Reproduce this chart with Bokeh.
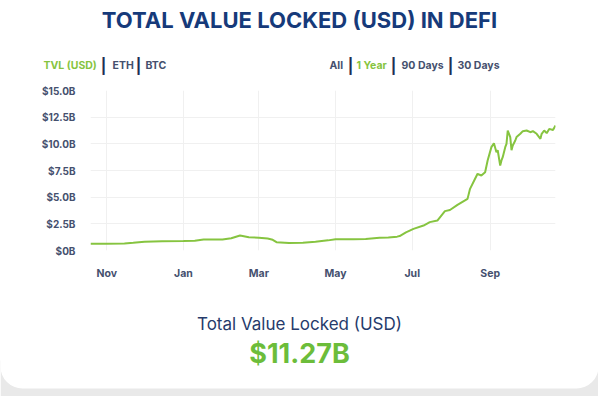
from bokeh.plotting import figure
from bokeh.layouts import column
from bokeh.models import (Range1d, FixedTicker, MonthsTicker, DatetimeTickFormatter, Label,
                          ColumnDataSource, BoxAnnotation)
from bokeh.embed import file_html
from bokeh.resources import INLINE
import pandas as pd

# ---- data ----
dates = [
    "2019-10-19", "2019-11-01", "2019-11-15", "2019-11-22", "2019-12-01", "2019-12-15",
    "2020-01-01", "2020-01-10", "2020-01-17", "2020-02-01", "2020-02-08", "2020-02-15",
    "2020-02-22", "2020-03-01", "2020-03-08", "2020-03-12", "2020-03-15", "2020-03-25",
    "2020-04-05", "2020-04-15", "2020-04-25", "2020-05-01", "2020-05-15", "2020-05-25",
    "2020-06-05", "2020-06-12", "2020-06-19", "2020-06-21", "2020-06-26", "2020-07-02",
    "2020-07-10", "2020-07-15", "2020-07-21", "2020-07-27", "2020-07-31", "2020-08-06",
    "2020-08-14", "2020-08-16", "2020-08-20", "2020-08-22", "2020-08-25", "2020-08-28",
    "2020-08-30", "2020-09-02", "2020-09-04", "2020-09-06", "2020-09-07", "2020-09-09",
    "2020-09-10", "2020-09-11", "2020-09-13", "2020-09-14", "2020-09-15", "2020-09-17",
    "2020-09-18", "2020-09-19", "2020-09-21", "2020-09-22", "2020-09-25", "2020-09-27",
    "2020-09-30", "2020-10-03", "2020-10-05", "2020-10-08", "2020-10-11", "2020-10-12",
    "2020-10-14", "2020-10-16", "2020-10-18", "2020-10-21", "2020-10-23",
]
tvl_billions = [
    0.63, 0.64, 0.66, 0.72, 0.83, 0.86,
    0.88, 0.92, 1.03, 1.03, 1.15, 1.41,
    1.25, 1.20, 1.13, 1.00, 0.78, 0.70,
    0.72, 0.82, 0.95, 1.05, 1.05, 1.08,
    1.20, 1.22, 1.30, 1.35, 1.70, 2.03,
    2.34, 2.66, 2.81, 3.69, 3.80, 4.28,
    4.84, 5.78, 6.72, 7.19, 7.03, 7.34,
    8.44, 9.69, 10.06, 9.22, 9.40, 7.97,
    8.44, 8.75, 9.69, 10.00, 11.25, 10.63,
    9.40, 9.84, 10.31, 10.63, 10.94, 11.19,
    11.25, 11.09, 11.19, 10.94, 10.47, 10.94,
    11.25, 11.00, 11.40, 11.30, 11.72,
]
y_ticks = [0, 2.5, 5.0, 7.5, 10.0, 12.5, 15.0]
y_tick_labels = ["$0B", "$2.5B", "$5.0B", "$7.5B", "$10.0B", "$12.5B", "$15.0B"]
title_text = "TOTAL VALUE LOCKED (USD) IN DEFI"
left_tabs = ["TVL (USD)", "ETH", "BTC"]
right_tabs = ["All", "1 Year", "90 Days", "30 Days"]
summary_label = "Total Value Locked (USD)"
summary_value = "$11.27B"

FONT = "Inter"
GREEN = "#86c440"
NAVY = "#163a7a"
GREYNAVY = "#45506e"
SEP = "#1f2f55"
W = 598


def text_panel(top, bottom):
    """A figure whose frame fills the canvas; its ranges are page pixels."""
    f = figure(width=W, height=bottom - top, x_range=Range1d(0, W),
               y_range=Range1d(bottom, top), output_backend="svg",
               toolbar_location=None, x_axis_location=None, y_axis_location=None,
               min_border=0)
    f.frame_align = False
    f.outline_line_color = None
    f.grid.visible = False
    return f


def lab(f, text, x, y, size, color, style="normal", align="left"):
    f.add_layout(Label(x=x, y=y, text=text, text_font=FONT, text_font_size=size,
                       text_color=color, text_font_style=style, text_align=align,
                       text_baseline="middle"))


# ---- header ----
top = text_panel(0, 84)
lab(top, title_text, 299, 19, "22px", NAVY, "bold", "center")
ry = 65
TS = "10.5px"
lab(top, left_tabs[0], 43, ry, TS, GREEN, "bold")
lab(top, "|", 103, ry, "15px", SEP, "bold", "center")
lab(top, left_tabs[1], 112, ry, TS, GREYNAVY, "bold")
lab(top, "|", 138, ry, "15px", SEP, "bold", "center")
lab(top, left_tabs[2], 145, ry, TS, GREYNAVY, "bold")
lab(top, right_tabs[0], 329, ry, TS, GREYNAVY, "bold")
lab(top, "|", 350, ry, "15px", SEP, "bold", "center")
lab(top, right_tabs[1], 356, ry, TS, GREEN, "bold")
lab(top, "|", 393, ry, "15px", SEP, "bold", "center")
lab(top, right_tabs[2], 401, ry, TS, GREYNAVY, "bold")
lab(top, "|", 450, ry, "15px", SEP, "bold", "center")
lab(top, right_tabs[3], 457, ry, TS, GREYNAVY, "bold")

# ---- chart ----
src = ColumnDataSource(dict(x=pd.to_datetime(dates), y=tvl_billions))
p = figure(width=W, height=200, x_axis_type="datetime",
           x_range=Range1d(pd.Timestamp("2019-10-19"), pd.Timestamp("2020-10-23")),
           y_range=Range1d(0, 15),
           output_backend="svg", toolbar_location=None,
           min_border_left=90, min_border_right=43, min_border_top=6, min_border_bottom=34)
p.outline_line_color = None
p.line("x", "y", source=src, line_color=GREEN, line_width=2)

mt = MonthsTicker(months=[0, 2, 4, 6, 8, 10])
p.xaxis.ticker = mt
p.xgrid.ticker = mt
p.xaxis.formatter = DatetimeTickFormatter(months="%b", days="%b", years="%b")
p.yaxis.ticker = FixedTicker(ticks=y_ticks)
p.yaxis.major_label_overrides = {t: l for t, l in zip(y_ticks, y_tick_labels)}
for ax in (p.xaxis, p.yaxis):
    ax.axis_line_color = None
    ax.major_tick_line_color = None
    ax.minor_tick_line_color = None
    ax.major_label_text_font = FONT
    ax.major_label_text_color = GREYNAVY
    ax.major_label_text_font_size = "10px"
    ax.major_label_text_font_style = "bold"
p.xaxis.major_label_text_font_size = "10.5px"
p.xaxis.major_label_standoff = 10
p.yaxis.major_label_standoff = 9
p.xgrid.grid_line_color = "#f0f0f0"
p.ygrid.grid_line_color = "#f0f0f0"

# ---- footer ----
bot = text_panel(284, 396)
bot.add_layout(BoxAnnotation(left=0, right=W, top=360, bottom=396, fill_color="#e9e9e9",
                             fill_alpha=1, line_color=None, level="underlay"))
bot.add_layout(BoxAnnotation(left=0, right=W, top=250, bottom=388, fill_color="white",
                             fill_alpha=1, line_color=None, border_radius=22, level="underlay"))
lab(bot, summary_label, 299, 323, "17px", "#263b6b", "normal", "center")
lab(bot, summary_value, 299, 353, "27px", "#6cbd3a", "bold", "center")

layout = column(top, p, bot, spacing=0)
open("out.html", "w").write(file_html(layout, INLINE))
